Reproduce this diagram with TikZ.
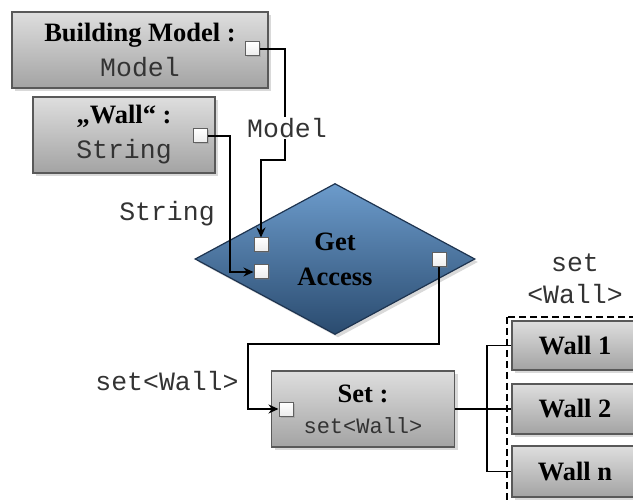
\documentclass[tikz,border=0pt]{standalone}
\usepackage{fontspec}
\setmainfont{Liberation Serif}
\setmonofont{Liberation Mono}
\usetikzlibrary{positioning,shapes.geometric,shadows,arrows.meta}

\definecolor{boxtop}{HTML}{DEDEDE}
\definecolor{boxbot}{HTML}{A3A3A3}
\definecolor{boxline}{HTML}{595959}
\definecolor{diatop}{HTML}{6C9BCB}
\definecolor{diabot}{HTML}{2A4B6F}
\definecolor{dialine}{HTML}{1E3450}
\definecolor{monotext}{HTML}{333333}

\tikzset{
	big/.style={font=\fontsize{26.5}{35}\selectfont},
	objbox/.style={draw=boxline, line width=1.2pt, top color=boxtop, bottom color=boxbot,
		drop shadow={shadow xshift=3pt, shadow yshift=-3pt, opacity=0.3},
		inner sep=0pt, align=center, big},
	port/.style={draw=gray!75!black, line width=1pt, top color=white, bottom color=gray!15,
		minimum size=14pt, inner sep=0pt,
		drop shadow={shadow xshift=1.5pt, shadow yshift=-1.5pt, opacity=0.3}},
	link/.style={line width=1.6pt},
	conn/.style={link, -{Stealth[length=10pt,width=9pt]}},
	typelbl/.style={font=\fontsize{26.5}{32}\selectfont\ttfamily, text=monotext, inner sep=1pt}
}

\begin{document}
\begin{tikzpicture}[x=1pt, y=-1pt]
	\useasboundingbox (0,0) rectangle (633,500);
	\clip (0,0) rectangle (633,500);

	\node (bm) at (140,50) [objbox, minimum width=256pt, minimum height=76pt]
		{\textbf{Building Model :}\\{\ttfamily\color{monotext}Model}};
	\node (wall) at (124,135) [objbox, minimum width=182pt, minimum height=76pt]
		{\textbf{„Wall“ :}\\{\ttfamily\color{monotext}String}};

	\node (getacc) at (335,259) [diamond, draw=dialine, line width=1.2pt, top color=diatop, bottom color=diabot,
		minimum width=280pt, minimum height=151pt, inner sep=0pt, align=center, big,
		drop shadow={shadow xshift=3pt, shadow yshift=-3pt, opacity=0.3}]
		{\textbf{Get}\\\textbf{Access}};

	\node (setbox) at (363,409) [objbox, minimum width=183pt, minimum height=76pt]
		{\textbf{Set :}\\[-4pt]{\fontsize{22}{26}\selectfont\ttfamily\color{monotext}set<Wall>}};

	\draw [dashed, dash pattern=on 7pt off 4pt, line width=1.2pt] (507,317) rectangle (660,520);
	\node (w1) at (575,345.5) [objbox, minimum width=126pt, minimum height=49pt] {\textbf{Wall 1}};
	\node (w2) at (575,409) [objbox, minimum width=126pt, minimum height=50pt] {\textbf{Wall 2}};
	\node (wn) at (575,471.5) [objbox, minimum width=126pt, minimum height=51pt] {\textbf{Wall n}};

	\node (bmport) at (252,49) [port] {};
	\node (wallport) at (200,136) [port] {};
	\node (gain1) at (261,245) [port] {};
	\node (gain2) at (261,272) [port] {};
	\node (gaout) at (439,260) [port] {};
	\node (setin) at (286,409) [port] {};

	\draw [conn] (bmport.east) -| (285,160) -| (gain1.north);
	\draw [conn] (wallport.east) -| (230,272) -- (gain2.west);
	\draw [conn] (gaout.south) |- (248,344) |- (setin.west);

	\coordinate (fork) at (487,409);
	\draw [link] (setbox.east) -- (w2.west);
	\draw [link] (fork) |- (w1.west);
	\draw [link] (fork) |- (wn.west);

	\node (mlbl) at (287,128) [typelbl, fill=white] {Model};
	\node (slbl) at (167,214) [typelbl] {String};
	\node (setlbl) at (167,381) [typelbl] {set<Wall>};
	\node (wallslbl) at (575,279) [typelbl, align=center] {set\\<Wall>};
\end{tikzpicture}
\end{document}
